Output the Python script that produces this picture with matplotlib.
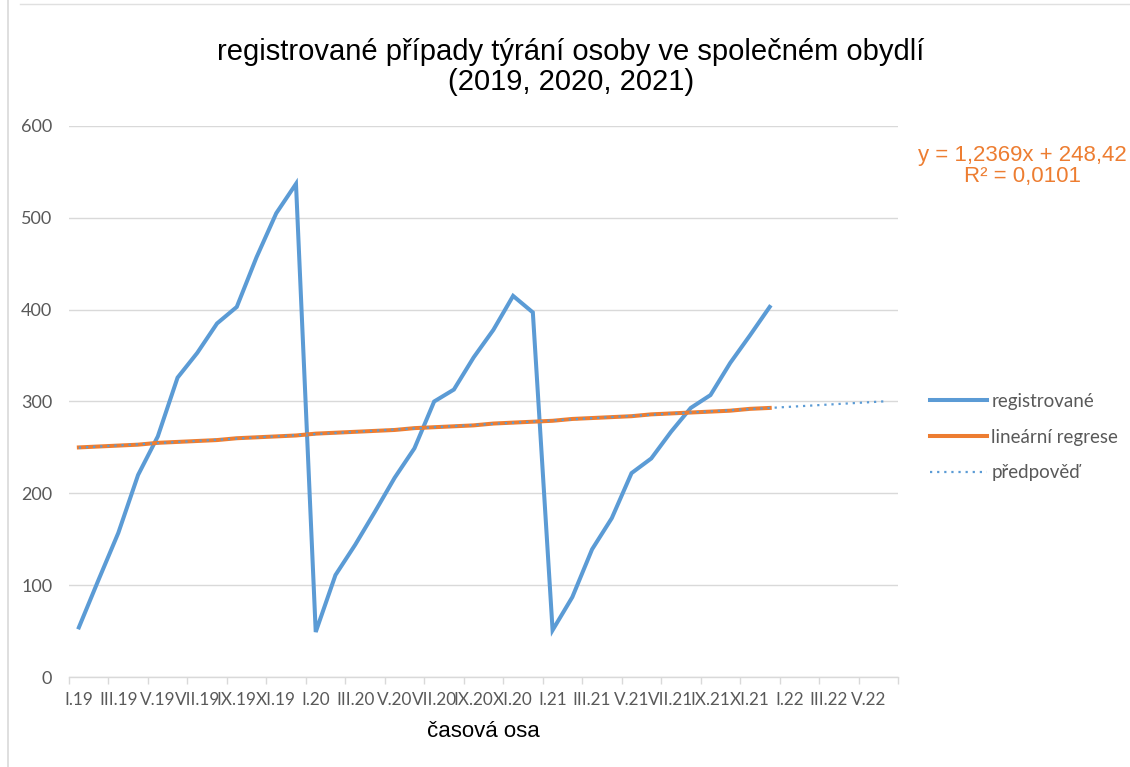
import matplotlib.pyplot as plt
from matplotlib.lines import Line2D

# Daten: registrované případy po měsících (I.2019 - XII.2021)
roman = ['I', 'II', 'III', 'IV', 'V', 'VI', 'VII', 'VIII', 'IX', 'X', 'XI', 'XII']
years = ['19', '20', '21', '22']
months = [f'{r}.{y}' for y in years for r in roman][:42]  # osa až do VI.22

registered = [54, 106, 157, 220, 262, 326, 353, 385, 403, 457, 505, 537,
              49, 111, 144, 180, 217, 249, 300, 313, 348, 378, 415, 397,
              51, 87, 139, 173, 222, 238, 267, 293, 307, 342, 372, 403]

# hodnoty regrese (zaokrouhlené)
regression = [250, 251, 252, 253, 255, 256, 257, 258, 260, 261, 262, 263,
              265, 266, 267, 268, 269, 271, 272, 273, 274, 276, 277, 278,
              279, 281, 282, 283, 284, 286, 287, 288, 289, 290, 292, 293]

# trendová čára (předpověď) - začátek a konec
forecast_idx = [0, 41]
forecast = [249.7, 300.4]

equation = 'y = 1,2369x + 248,42\nR² = 0,0101'

blue = '#5B9BD5'
orange = '#ED7D31'
gray = '#595959'

fig = plt.figure(figsize=(11.3, 7.67), dpi=100)
ax = fig.add_axes([69 / 1130, 1 - 677 / 767, 829 / 1130, 551 / 767])

x = list(range(len(registered)))
ax.plot(x, registered, color=blue, lw=2.9, label='registrované', solid_joinstyle='miter')
ax.plot(x, regression, color=orange, lw=2.9, label='lineární regrese')
ax.plot(forecast_idx, forecast, color=blue, lw=1.6, ls=(0, (1, 2.2)), label='předpověď')

ax.set_xlim(-0.5, len(months) - 0.5)
ax.set_ylim(0, 600)

# osy a mřížka
for s in ['top', 'right', 'left']:
    ax.spines[s].set_visible(False)
ax.spines['bottom'].set_color('#D9D9D9')
ax.spines['bottom'].set_linewidth(1)
ax.set_yticks(range(0, 601, 100))
ax.yaxis.grid(True, color='#D9D9D9', lw=1)
ax.set_axisbelow(True)
ax.tick_params(axis='y', length=0, pad=12, labelsize=13, labelcolor=gray)
for t in ax.get_yticklabels():
    t.set_fontfamily('Lato')

# značky mezi skupinami, popisky na každém druhém měsíci
ax.set_xticks([i - 0.5 for i in range(0, len(months) + 1, 2)])
ax.set_xticklabels([])
ax.tick_params(axis='x', which='major', length=5, color='#D9D9D9', width=1)
ax.set_xticks(list(range(0, len(months), 2)), minor=True)
ax.set_xticklabels(months[::2], minor=True, fontsize=12.3, color=gray, family='Lato')
ax.tick_params(axis='x', which='minor', length=0, pad=11)

ax.set_xlabel('časová osa', fontsize=16, family='Liberation Sans', color='black', labelpad=9)

fig.text(571 / 1130, 1 - 67 / 767,
         'registrované případy týrání osoby ve společném obydlí\n(2019, 2020, 2021)',
         ha='center', va='center', fontsize=21, family='Liberation Sans', linespacing=1.1)

fig.text(1022 / 1130, 1 - 166 / 767, equation, ha='center', va='center',
         fontsize=16, color=orange, family='Liberation Sans', linespacing=1.0)

leg = fig.legend(loc='center left', bbox_to_anchor=(921 / 1130, 1 - 437 / 767),
                 frameon=False, fontsize=13.5, handlelength=3.0, handletextpad=0.25,
                 labelspacing=1.0, borderpad=0)
for t in leg.get_texts():
    t.set_color(gray)
    t.set_fontfamily('Lato')

# slabý rámeček listu
fig.add_artist(Line2D([8 / 1130, 8 / 1130], [0, 1], color='#D9D9D9', lw=1.2))
fig.add_artist(Line2D([20 / 1130, 1], [1 - 4 / 767, 1 - 4 / 767], color='#E0E0E0', lw=1))

fig.savefig('out.png', dpi=100)
